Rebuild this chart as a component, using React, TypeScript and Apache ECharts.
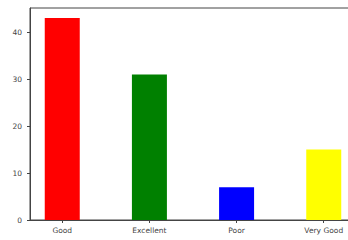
import React, { useEffect, useRef } from "react";
import * as echarts from "echarts";

const categories = ["Good", "Excellent", "Poor", "Very Good"];
const counts = [43, 31, 7, 15];
const barColors = ["#ff0000", "#008000", "#0000ff", "#ffff00"];
const yTicks = [0, 10, 20, 30, 40];

export default function App() {
  const ref = useRef<HTMLDivElement>(null);
  useEffect(() => {
    document.body.style.margin = "0";
    document.body.style.overflow = "hidden";
    const chart = echarts.init(ref.current!, null, { renderer: "svg" });
    const xPositions = categories.map((_, i) => i);
    chart.setOption({
      animation: false,
      backgroundColor: "#ffffff",
      grid: {
        left: 30,
        top: 8,
        width: 326,
        height: 212,
        outerBoundsMode: "none",
        show: true,
        borderColor: "#444444",
        borderWidth: 1,
        backgroundColor: "transparent",
      },
      xAxis: {
        type: "value",
        min: -0.37,
        max: 3.37,
        splitLine: { show: false },
        axisLine: { show: true, onZero: false, lineStyle: { color: "#444444", width: 1 } },
        axisTick: { show: true, length: 3, customValues: xPositions, lineStyle: { color: "#444444" } },
        axisLabel: {
          customValues: xPositions,
          formatter: (v: number) => categories[Math.round(v)] ?? "",
          fontFamily: "DejaVu Sans",
          fontSize: 7.5,
          color: "#444444",
          margin: 6,
        },
      },
      yAxis: {
        type: "value",
        min: 0,
        max: 45.15,
        splitLine: { show: false },
        axisLine: { show: true, onZero: false, lineStyle: { color: "#444444", width: 1 } },
        axisTick: { show: true, length: 3, customValues: yTicks, lineStyle: { color: "#444444" } },
        axisLabel: {
          customValues: yTicks,
          fontFamily: "DejaVu Sans",
          fontSize: 7.5,
          color: "#444444",
          margin: 8,
        },
      },
      series: [
        {
          type: "bar",
          barWidth: 35,
          data: counts.map((v, i) => ({
            value: [i, v],
            itemStyle: { color: barColors[i] },
          })),
        },
      ],
    });
    return () => chart.dispose();
  }, []);
  return (
    <div style={{ width: 348, height: 240, overflow: "hidden" }}>
      <div ref={ref} style={{ width: 370, height: 240 }} />
    </div>
  );
}
